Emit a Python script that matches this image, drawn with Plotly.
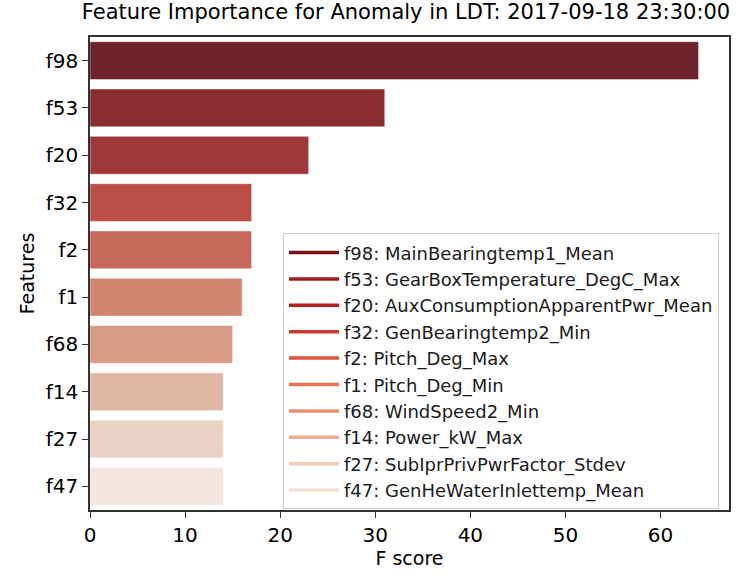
import plotly.graph_objects as go

# Feature importance (F score) per feature, most important first
features = ["f98", "f53", "f20", "f32", "f2", "f1", "f68", "f14", "f27", "f47"]
f_scores = [64, 31, 23, 17, 17, 16, 15, 14, 14, 14]
descriptions = [
    "MainBearingtemp1_Mean",
    "GearBoxTemperature_DegC_Max",
    "AuxConsumptionApparentPwr_Mean",
    "GenBearingtemp2_Min",
    "Pitch_Deg_Max",
    "Pitch_Deg_Min",
    "WindSpeed2_Min",
    "Power_kW_Max",
    "SubIprPrivPwrFactor_Stdev",
    "GenHeWaterInlettemp_Mean",
]

# Bar fills (muted reds) and legend line colours (full reds palette)
bar_colors = ["#6f2227", "#8a2d30", "#9e383a", "#b94f47", "#c7695a",
              "#d08570", "#d89c86", "#e0b6a4", "#ead2c5", "#f3e5dd"]
line_colors = ["#7c1218", "#9e1a1f", "#b5201f", "#c93a30", "#db5540",
               "#e5745a", "#ea9170", "#eeae90", "#f2cbb5", "#f6e1d6"]

FONT = "DejaVu Sans"

fig = go.Figure()

fig.add_trace(go.Bar(
    x=f_scores,
    y=features,
    orientation="h",
    marker=dict(color=bar_colors, line=dict(color="rgba(255,255,255,0.6)", width=0.8)),
    showlegend=False,
    hoverinfo="x+y",
))

# Legend entries: one line per feature description
for feat, desc, col in zip(features, descriptions, line_colors):
    fig.add_trace(go.Scatter(
        x=[None], y=[None],
        mode="lines",
        line=dict(color=col, width=3.5),
        name=f"{feat}: {desc}",
        legendgroup=feat,
    ))

fig.update_layout(
    width=745,
    height=576,
    margin=dict(l=90, r=16, t=37, b=64),
    plot_bgcolor="white",
    paper_bgcolor="white",
    font=dict(family=FONT, color="#000000"),
    bargap=0.2,
    title=dict(
        text="Feature Importance for Anomaly in LDT: 2017-09-18 23:30:00",
        x=0.545, xref="container", xanchor="center",
        y=1, yref="container", yanchor="top", pad=dict(t=4),
        font=dict(family=FONT, size=21, color="#000000"),
    ),
    legend=dict(
        x=0.302, y=0.585, xanchor="left", yanchor="top",
        bgcolor="rgba(255,255,255,0.85)",
        bordercolor="#cccccc", borderwidth=1,
        font=dict(family=FONT, size=18, color="#1a1a1a"),
        tracegroupgap=0,
        itemwidth=50,
    ),
)

fig.update_xaxes(
    range=[0, 67.2],
    tickvals=[0, 10, 20, 30, 40, 50, 60],
    ticks="outside", ticklen=6, tickwidth=1.2, tickcolor="#333333",
    showline=True, linecolor="#333333", linewidth=1.5, mirror=True,
    showgrid=False, zeroline=False,
    tickfont=dict(family=FONT, size=20, color="#000000"),
    title=dict(text="F score", font=dict(family=FONT, size=19, color="#000000"), standoff=4),
)
fig.update_yaxes(
    categoryorder="array", categoryarray=features, autorange="reversed",
    ticks="outside", ticklen=6, tickwidth=1.2, tickcolor="#333333",
    showline=True, linecolor="#333333", linewidth=1.5, mirror=True,
    showgrid=False, zeroline=False,
    tickfont=dict(family=FONT, size=20, color="#000000"),
    title=dict(text="Features", font=dict(family=FONT, size=19, color="#000000"), standoff=6),
)

fig.write_html("out.html")
